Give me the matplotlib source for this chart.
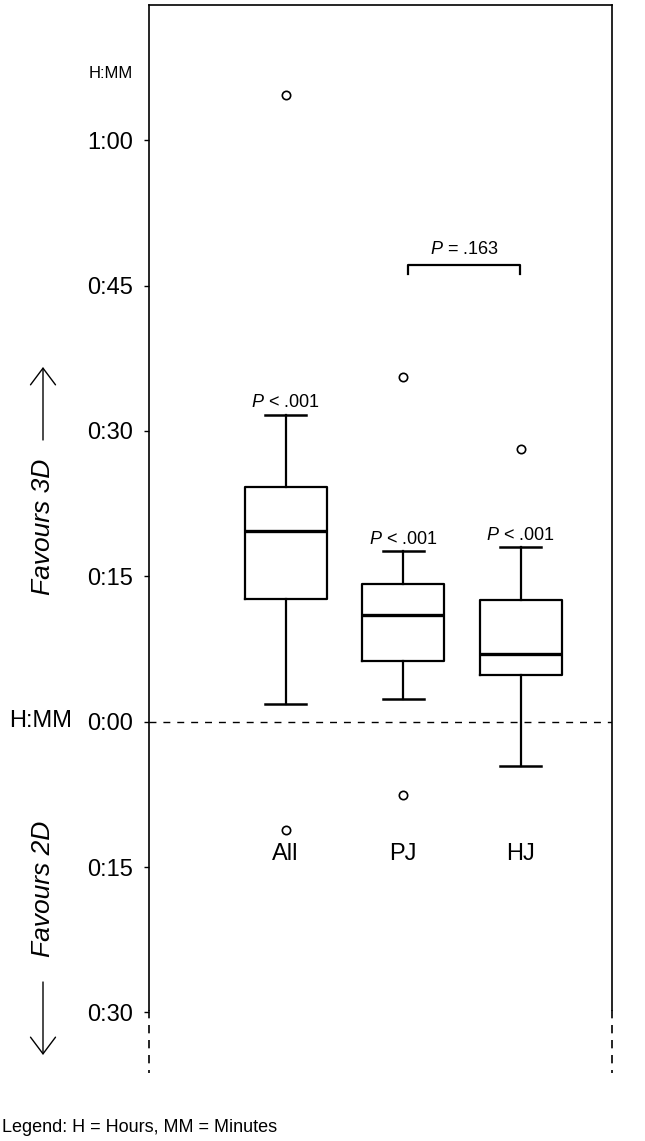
import matplotlib
matplotlib.use("Agg")
import matplotlib.pyplot as plt

plt.rcParams['font.family'] = ['Liberation Sans', 'DejaVu Sans']
plt.rcParams['mathtext.fontset'] = 'custom'
plt.rcParams['mathtext.it'] = 'Liberation Sans:italic'
plt.rcParams['mathtext.rm'] = 'Liberation Sans'

# time differences (3D minus 2D) in minutes
groups = ['All', 'PJ', 'HJ']
whisker_low = [1.8, 2.3, -4.6]
q1 = [12.7, 6.3, 4.8]
median = [19.7, 11.0, 7.0]
q3 = [24.2, 14.2, 12.6]
whisker_high = [31.7, 17.6, 18.0]
outliers = [[64.7, -11.2], [35.6, -7.6], [28.1]]
p_labels = ['$P$ < .001', '$P$ < .001', '$P$ < .001']
pj_vs_hj = '$P$ = .163'
bracket_y = 47.1

yticks = [-30, -15, 0, 15, 30, 45, 60]
ytick_labels = ['0:30', '0:15', '0:00', '0:15', '0:30', '0:45', '1:00']

W, H = 645, 1141
fig = plt.figure(figsize=(W / 100, H / 100), dpi=100)
ax = fig.add_axes([149 / W, 1 - 1073 / H, (612 - 149) / W, (1073 - 5) / H])

stats = []
for i in range(len(groups)):
    stats.append(dict(med=median[i], q1=q1[i], q3=q3[i], whislo=whisker_low[i],
                      whishi=whisker_high[i], fliers=outliers[i], label=groups[i]))

pos = [1, 2, 3]
ax.bxp(stats, positions=pos, widths=0.7, capwidths=0.35, showfliers=True,
       boxprops=dict(color='black', linewidth=1.6),
       whiskerprops=dict(color='black', linewidth=1.6),
       capprops=dict(color='black', linewidth=1.8),
       medianprops=dict(color='black', linewidth=2.4),
       flierprops=dict(marker='o', markerfacecolor='white', markeredgecolor='black',
                       markersize=6, markeredgewidth=1.2))

ax.set_xlim(-0.163, 3.777)
ax.set_ylim(-36.25, 73.96)

# zero line
ax.axhline(0, color='black', linewidth=1, linestyle=(0, (5, 5)))

# spines: solid down to about -30, dashed below
for s in ['left', 'right', 'bottom']:
    ax.spines[s].set_visible(False)
ax.spines['top'].set_linewidth(1.2)
for xa in [0, 1]:
    ax.plot([xa, xa], [-29.75, 73.96], color='black', linewidth=1.2,
            transform=ax.get_yaxis_transform(), clip_on=False)
    ax.plot([xa, xa], [-29.75, -36.25], color='black', linewidth=1.2,
            linestyle=(0, (5, 4)), transform=ax.get_yaxis_transform(), clip_on=False)

ax.set_xticks([])
ax.set_yticks(yticks)
ax.set_yticklabels(ytick_labels)
ax.tick_params(axis='y', direction='out', length=3.6, width=1, pad=8, labelsize=17)

# group names inside the plot
for x, g in zip(pos, groups):
    ax.text(x, -13.6, g, ha='center', va='center', fontsize=17)

# p-values above the upper whiskers
for x, hi, lab in zip(pos, whisker_high, p_labels):
    ax.text(x, hi + 1.25, lab, ha='center', va='center', fontsize=13)

# PJ vs HJ bracket
ax.plot([2.04, 2.04, 2.99, 2.99], [bracket_y - 0.9, bracket_y, bracket_y, bracket_y - 0.9],
        color='black', linewidth=1.6)
ax.text(2.52, bracket_y + 1.6, pj_vs_hj, ha='center', va='center', fontsize=13)

# text around the axis
fig.text(133 / W, 1 - 74 / H, 'H:MM', ha='right', va='center', fontsize=12)
fig.text(72 / W, 1 - 721 / H, 'H:MM', ha='right', va='center', fontsize=17)
fig.text(43 / W, 1 - 527 / H, 'Favours 3D', rotation=90, style='italic',
         ha='center', va='center', fontsize=19)
fig.text(43 / W, 1 - 889 / H, 'Favours 2D', rotation=90, style='italic',
         ha='center', va='center', fontsize=19)
ax.annotate('', xy=(43 / W, 1 - 367 / H), xytext=(43 / W, 1 - 440 / H),
            xycoords='figure fraction', textcoords='figure fraction',
            arrowprops=dict(arrowstyle='->, head_length=0.6, head_width=0.45',
                            mutation_scale=20, color='black', linewidth=1,
                            shrinkA=0, shrinkB=0))
ax.annotate('', xy=(43 / W, 1 - 1055 / H), xytext=(43 / W, 1 - 982 / H),
            xycoords='figure fraction', textcoords='figure fraction',
            arrowprops=dict(arrowstyle='->, head_length=0.6, head_width=0.45',
                            mutation_scale=20, color='black', linewidth=1,
                            shrinkA=0, shrinkB=0))

fig.text(2 / W, 1 - 1128 / H, 'Legend: H = Hours, MM = Minutes', ha='left', va='center',
         fontsize=13)

fig.savefig('out.png', dpi=100)
